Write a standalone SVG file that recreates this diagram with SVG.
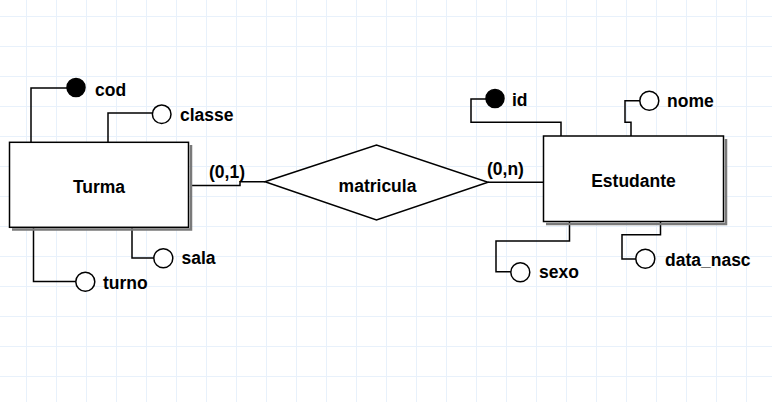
<svg xmlns="http://www.w3.org/2000/svg" width="772" height="402" viewBox="0 0 772 402">
<style>
.ln{fill:none;stroke:#000;stroke-width:1.5}
.ent{fill:#fff;stroke:#000;stroke-width:1.5}
.sh{fill:none;stroke:#7a7a7a;stroke-width:2.5}
.att{fill:#fff;stroke:#000;stroke-width:1.5}
.key{fill:#000;stroke:#000;stroke-width:1.5}
text{font-family:"Liberation Sans",Arial,sans-serif;font-weight:bold;font-size:17.5px;fill:#000}
.c{text-anchor:middle}
</style>
<defs>
<pattern id="grid" x="26" y="16" width="30" height="30" patternUnits="userSpaceOnUse">
<path d="M0.5,0 V30 M0,0.5 H30" fill="none" stroke="#e8f1fb" stroke-width="1"/>
</pattern>
</defs>
<rect width="772" height="402" fill="#fff"/>
<rect width="772" height="402" fill="url(#grid)"/>
<g id="connectors">
<path class="ln" d="M31,142 V88 H67"/>
<path class="ln" d="M108,142 V113 H152.5"/>
<path class="ln" d="M132,227 V258 H154"/>
<path class="ln" d="M33.5,227 V281.5 H76"/>
<path class="ln" d="M191,185.5 H240 V181.7 H265"/>
<path class="ln" d="M488,182.3 H543"/>
<path class="ln" d="M561,136 V122.3 H471 V99 H486"/>
<path class="ln" d="M631,136 V122.3 H625 V100.7 H640"/>
<path class="ln" d="M569.5,222 V241 H496 V271.7 H511"/>
<path class="ln" d="M660.5,222 V234.7 H622 V259 H636"/>
<text x="209" y="178">(0,1)</text>
<text x="487" y="174.5">(0,n)</text>
</g>
<g id="turma">
<path class="sh" d="M191,145 V229.5 H12"/>
<rect class="ent" x="9.5" y="142.3" width="179" height="85"/>
<text class="c" x="99" y="192.5">Turma</text>
</g>
<g id="matricula">
<polygon class="ent" points="265,181.7 376.5,145 488,182.3 376.5,220"/>
<text class="c" x="377.5" y="191.7">matricula</text>
</g>
<g id="estudante">
<path class="sh" d="M726,139 V224 H546"/>
<rect class="ent" x="543.5" y="136" width="180" height="85.5"/>
<text class="c" x="633.5" y="186.7">Estudante</text>
</g>
<g id="cod"><circle class="key" cx="76" cy="87.5" r="9"/><text x="95" y="95.5">cod</text></g>
<g id="classe"><circle class="att" cx="161.7" cy="114.2" r="9.3"/><text x="180" y="121">classe</text></g>
<g id="sala"><circle class="att" cx="163.3" cy="258.3" r="9.5"/><text x="181.5" y="264">sala</text></g>
<g id="turno"><circle class="att" cx="85.3" cy="281.7" r="9.5"/><text x="103" y="288.5">turno</text></g>
<g id="id"><circle class="key" cx="495" cy="98.5" r="9"/><text x="512" y="105.7">id</text></g>
<g id="nome"><circle class="att" cx="649.3" cy="100.7" r="9.5"/><text x="667" y="107.3">nome</text></g>
<g id="sexo"><circle class="att" cx="520.3" cy="272.3" r="9.5"/><text x="539" y="278.3">sexo</text></g>
<g id="data_nasc"><circle class="att" cx="645.3" cy="258.8" r="9.5"/><text x="665" y="266">data_nasc</text></g>
</svg>
